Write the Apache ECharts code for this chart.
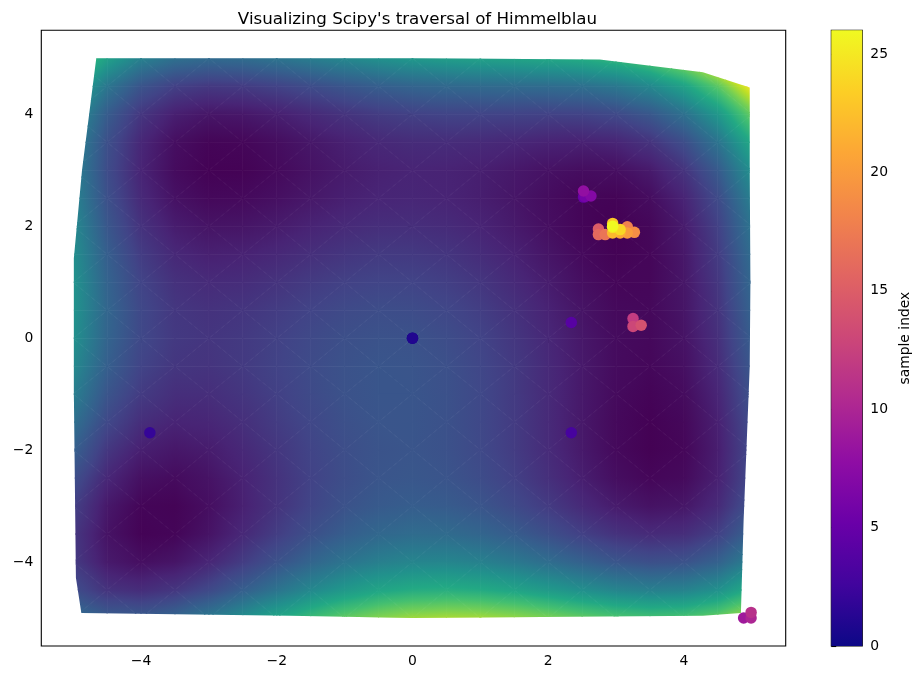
<!DOCTYPE html>
<html><head><meta charset="utf-8">
<script src="https://cdn.jsdelivr.net/npm/echarts@6/dist/echarts.min.js"></script>
<style>html,body{margin:0;padding:0;background:#fff}#c{width:919px;height:680px}</style>
</head><body><div id="c"></div>
<script>
var titleText = "Visualizing Scipy's traversal of Himmelblau";
var colorbarLabel = "sample index";
var xTicks = [-4, -2, 0, 2, 4];
var yTicks = [-4, -2, 0, 2, 4];
var cbTicks = [0, 5, 10, 15, 20, 25];
var meshX = [-5,-4.5,-4,-3.5,-3,-2.5,-2,-1.5,-1,-0.5,0,0.5,1,1.5,2,2.5,3,3.5,4,4.5,5];
var meshY = [5,4.5,4,3.5,3,2.5,2,1.5,1,0.5,0,-0.5,-1,-1.5,-2,-2.5,-3,-3.5,-4,-4.5,-5];
var z00 = [530,385,296,249,234,240,260,286,314,339,360,375,386,394,404,420,450,501,584,709,890];
var z01 = [410,266,176,128,111,116,133,156,180,202,218,228,233,236,239,248,270,314,388,504,675];
var z02 = [340,196,106,58,40,43,58,79,100,118,130,136,136,133,130,133,148,184,250,358,520];
var z03 = [306,164,74,26,7,10,23,42,60,76,84,86,81,74,65,62,70,100,158,258,411];
var z04 = [298,156,68,20,2,3,16,33,50,62,68,66,58,45,32,23,26,48,100,192,338];
var z05 = [305,166,79,32,14,16,28,44,59,70,73,68,56,40,22,8,5,22,67,152,290];
var z06 = [320,183,98,53,36,38,50,66,80,89,90,83,68,48,26,8,0,11,50,129,260];
var z07 = [335,202,119,76,60,64,76,92,105,114,113,104,86,64,38,16,3,10,43,116,240];
var z08 = [346,215,136,95,82,86,100,116,130,137,136,125,106,80,52,26,10,11,40,107,226];
var z09 = [348,222,146,108,97,104,119,136,150,158,156,144,123,96,65,36,16,14,38,100,213];
var z10 = [340,218,146,112,104,113,130,149,164,172,170,158,136,107,74,43,20,14,34,92,200];
var z11 = [320,204,136,106,101,114,133,154,170,180,178,166,143,114,79,46,20,12,28,82,185];
var z12 = [290,178,116,90,90,105,128,151,170,180,180,168,146,115,80,45,18,6,20,70,170];
var z13 = [251,146,89,68,72,92,118,144,165,178,179,168,146,116,80,44,15,2,13,60,156];
var z14 = [208,109,58,43,52,76,106,136,160,175,178,169,148,118,82,46,16,1,10,55,148];
var z15 = [165,74,29,20,34,64,98,132,159,178,183,176,156,128,92,56,25,10,17,60,150];
var z16 = [130,45,8,5,26,60,100,138,170,191,200,195,178,150,116,80,50,33,40,81,170];
var z17 = [110,34,4,8,35,76,121,164,200,226,238,236,221,196,163,128,98,82,88,128,215];
var z18 = [116,48,26,38,72,119,170,219,260,290,306,308,296,273,242,209,180,164,170,210,296];
var z19 = [158,100,86,106,147,202,259,314,360,396,416,422,413,394,365,334,306,292,298,338,423];
var z20 = [250,200,196,224,274,335,400,461,514,554,580,590,586,569,544,515,490,476,484,524,610];
var meshZ = [z00,z01,z02,z03,z04,z05,z06,z07,z08,z09,z10,z11,z12,z13,z14,z15,z16,z17,z18,z19,z20];
var meshMax = 680;
var hullX = [-4.66,-0.0,2.76,4.28,4.97,4.97,4.98,4.97,4.88,4.84,4.28,0,-1.81,-4.88,-4.96,-4.99,-4.99,-4.87];
var hullY = [5,5,4.98,4.75,4.48,3,1,-0.5,-3.25,-4.91,-4.96,-5,-4.96,-4.91,-4.28,-1,1.43,3];
var sampleX = [0,0,-3.87,2.34,2.34,2.52,2.54,2.63,2.52,4.88,4.99,4.99,3.25,3.25,3.37,2.74,2.74,2.84,3.165,3.27,3.165,3.06,2.95,2.95,3.06,2.95,2.95];
var sampleY = [0,0,-1.69,-1.69,0.28,2.52,2.53,2.54,2.63,-5,-5,-4.9,0.35,0.21,0.23,1.95,1.85,1.85,1.99,1.89,1.88,1.88,1.88,2.05,1.94,1.98,2.0];
var cbRange = [0, 26];
var xRange = [-5.47, 5.5];
var yRange = [-5.5, 5.5];
var viridis = ['#440154','#482475','#414487','#355f8d','#2a788e','#21918c','#22a884','#44bf70','#7ad151','#bddf26','#fde725'];
var plasma = ['#0d0887','#41049d','#6a00a8','#8f0da4','#b12a90','#cc4778','#e16462','#f2844b','#fca636','#fcce25','#f0f921'];

function hex(c){return [parseInt(c.substr(1,2),16),parseInt(c.substr(3,2),16),parseInt(c.substr(5,2),16)];}
var vir = viridis.map(hex);
function col(t){
  t=Math.max(0,Math.min(1,t));
  var p=t*(vir.length-1),i=Math.min(vir.length-2,Math.floor(p)),f=p-i,a=vir[i],b=vir[i+1];
  return 'rgb('+Math.round(a[0]+(b[0]-a[0])*f)+','+Math.round(a[1]+(b[1]-a[1])*f)+','+Math.round(a[2]+(b[2]-a[2])*f)+')';
}
function triangleFill(P,V){
  var x1=P[0][0],y1=P[0][1],x2=P[1][0],y2=P[1][1],x3=P[2][0],y3=P[2][1];
  var det=(x2-x1)*(y3-y1)-(x3-x1)*(y2-y1);
  var a=((V[1]-V[0])*(y3-y1)-(V[2]-V[0])*(y2-y1))/det;
  var b=((x2-x1)*(V[2]-V[0])-(x3-x1)*(V[1]-V[0]))/det;
  var m=0,M=0;
  for(var i=1;i<3;i++){if(V[i]<V[m])m=i;if(V[i]>V[M])M=i;}
  var lo=V[m],hi=V[M];
  if(hi-lo<1e-6)return col(lo/meshMax);
  var g2=a*a+b*b,k=(hi-lo)/g2;
  var stops=[{offset:0,color:col(lo/meshMax)}];
  for(var s=0;s<viridis.length;s++){
    var v=s/(viridis.length-1)*meshMax;
    if(v>lo&&v<hi)stops.push({offset:(v-lo)/(hi-lo),color:viridis[s]});
  }
  stops.push({offset:1,color:col(hi/meshMax)});
  return new echarts.graphic.LinearGradient(P[m][0],P[m][1],P[m][0]+a*k,P[m][1]+b*k,stops,true);
}
function renderMesh(params,api){
  var kids=[];
  for(var r=0;r<meshY.length-1;r++)for(var c=0;c<meshX.length-1;c++){
    var tl=api.coord([meshX[c],meshY[r]]),tr=api.coord([meshX[c+1],meshY[r]]),
        bl=api.coord([meshX[c],meshY[r+1]]),br=api.coord([meshX[c+1],meshY[r+1]]);
    var vtl=meshZ[r][c],vtr=meshZ[r][c+1],vbl=meshZ[r+1][c],vbr=meshZ[r+1][c+1];
    var tris=((r+c)%2===0)?[[[tl,tr,br],[vtl,vtr,vbr]],[[tl,br,bl],[vtl,vbr,vbl]]]
                          :[[[tl,tr,bl],[vtl,vtr,vbl]],[[tr,br,bl],[vtr,vbr,vbl]]];
    tris.forEach(function(t){
      var f=triangleFill(t[0],t[1]);
      kids.push({type:'polygon',shape:{points:t[0]},style:{fill:f,stroke:f,lineWidth:0.8},silent:true});
    });
  }
  var hull=hullX.map(function(x,i){return api.coord([x,hullY[i]]);});
  return {type:'group',children:kids,clipPath:{type:'polygon',shape:{points:hull}}};
}
function renderBar(params,api){
  var a=api.coord([0,cbRange[1]]),b=api.coord([1,cbRange[0]]);
  var stops=plasma.map(function(c,i){return {offset:i/(plasma.length-1),color:c};});
  return {type:'rect',shape:{x:a[0],y:a[1],width:b[0]-a[0],height:b[1]-a[1]},
    style:{fill:new echarts.graphic.LinearGradient(0,1,0,0,stops)},silent:true};
}
var font={fontFamily:'DejaVu Sans',fontSize:13.9,color:'#000'};
function fmt(v){return String(v).replace('-','\u2212');}
var tick={show:true,length:4.9,lineStyle:{color:'#000',width:1.1}};
var chart=echarts.init(document.getElementById('c'),null,{renderer:'canvas'});
chart.setOption({
  animation:false,
  backgroundColor:'#fff',
  title:{text:titleText,left:412.5,top:6,textAlign:'center',textStyle:{fontFamily:'DejaVu Sans',fontSize:16.7,fontWeight:'normal',color:'#000'}},
  grid:[
    {left:41.3,top:30.3,width:744.4,height:615.7,show:true,backgroundColor:'#fff',borderColor:'#000',borderWidth:1.1,containLabel:false},
    {left:831.3,top:30.3,width:31,height:615.7,show:true,backgroundColor:'transparent',borderColor:'#000',borderWidth:1.1,containLabel:false}
  ],
  visualMap:{show:false,seriesIndex:1,dimension:2,min:cbRange[0],max:cbRange[1],inRange:{color:plasma}},
  xAxis:[
    {type:'value',gridIndex:0,min:xRange[0],max:xRange[1],splitLine:{show:false},axisLine:{show:false},
     axisTick:Object.assign({customValues:xTicks},tick),
     axisLabel:Object.assign({customValues:xTicks,formatter:fmt,margin:8,showMinLabel:true,showMaxLabel:true},font)},
    {type:'value',gridIndex:1,min:0,max:1,show:false}
  ],
  yAxis:[
    {type:'value',gridIndex:0,min:yRange[0],max:yRange[1],splitLine:{show:false},axisLine:{show:false},
     axisTick:Object.assign({customValues:yTicks},tick),
     axisLabel:Object.assign({customValues:yTicks,formatter:fmt,margin:8},font)},
    {type:'value',gridIndex:1,position:'right',min:cbRange[0],max:cbRange[1],splitLine:{show:false},axisLine:{show:false},
     axisTick:Object.assign({customValues:cbTicks},tick),
     axisLabel:Object.assign({customValues:cbTicks,margin:8},font),
     name:colorbarLabel,nameLocation:'middle',nameRotate:90,nameGap:36,nameTextStyle:font}
  ],
  series:[
    {type:'custom',coordinateSystem:'cartesian2d',xAxisIndex:0,yAxisIndex:0,clip:false,silent:true,z:1,data:[[0,0]],renderItem:renderMesh},
    {type:'scatter',xAxisIndex:0,yAxisIndex:0,symbolSize:11.5,z:3,clip:false,silent:true,
     data:sampleX.map(function(x,i){return [x,sampleY[i],i];}),itemStyle:{opacity:1}},
    {type:'custom',coordinateSystem:'cartesian2d',xAxisIndex:1,yAxisIndex:1,clip:false,silent:true,z:1,data:[[0,0]],renderItem:renderBar}
  ]
});
</script></body></html>
